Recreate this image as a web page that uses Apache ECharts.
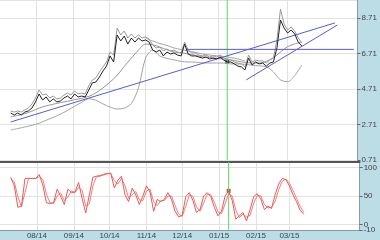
<!DOCTYPE html>
<html><head><meta charset="utf-8">
<script src="https://cdn.jsdelivr.net/npm/echarts@6/dist/echarts.min.js"></script>
<style>html,body{margin:0;padding:0;background:#bcdde6}#c{width:380px;height:240px}</style>
</head><body><div id="c"></div>
<script>
// ---- data ----
const startDate = '2014-07-10';
const stepDays = 3;        // sampling of price / stochastic arrays
const smoothStepDays = 6;  // sampling of averages / bands
const price = [3.36,3.24,3.36,3.24,3.41,3.47,3.64,3.98,4.43,4.09,4.26,3.98,4.15,3.98,4.03,4.20,4.31,4.15,4.43,4.26,
  4.31,4.26,4.65,5.05,5.10,5.38,5.72,6.00,6.57,6.23,7.75,7.41,7.69,7.24,7.58,7.35,7.58,7.41,7.47,7.35,
  6.90,6.79,6.90,6.57,6.79,6.68,6.74,6.62,6.57,7.24,6.68,6.57,6.57,6.51,6.45,6.51,6.40,6.45,6.40,6.51,
  6.34,6.23,6.23,6.12,6.00,5.95,5.78,6.45,6.06,6.23,6.12,6.17,6.00,6.17,6.23,7.02,8.59,8.14,7.86,8.03,
  7.81,7.35,7.13];
const priceHigh = [3.47,3.41,3.47,3.41,3.53,3.64,3.86,4.20,4.65,4.37,4.43,4.20,4.31,4.15,4.20,4.37,4.48,4.37,4.60,4.43,
  4.48,4.43,4.88,5.22,5.33,5.67,5.95,6.23,6.79,6.62,8.14,7.75,7.97,7.58,7.81,7.58,7.75,7.58,7.64,7.52,
  7.19,7.02,7.07,6.85,6.96,6.85,6.90,6.79,6.74,7.35,6.90,6.74,6.74,6.62,6.57,6.62,6.51,6.57,6.51,6.62,
  6.45,6.40,6.34,6.23,6.17,6.12,5.95,6.62,6.23,6.34,6.29,6.29,6.17,6.34,6.45,7.47,9.21,8.37,8.03,8.20,
  7.97,7.58,7.30];
const movingAvg = [3.13,3.22,3.32,3.46,3.63,3.76,3.85,3.94,4.02,4.11,4.18,4.29,4.49,4.77,5.10,5.48,5.98,6.45,6.90,7.24,
  7.20,7.07,6.92,6.79,6.75,6.68,6.61,6.52,6.48,6.43,6.39,6.35,6.27,6.21,6.17,6.17,6.26,6.47,6.79,7.09,
  7.25,7.35];
const lowerBand = [2.40,2.48,2.57,2.66,2.78,2.95,3.11,3.29,3.50,3.74,3.96,4.16,4.08,3.87,3.69,3.58,3.63,3.89,4.77,6.45,
  6.90,6.57,6.43,6.35,6.26,6.23,6.22,6.18,6.17,6.17,6.17,6.12,6.12,6.10,6.05,6.01,5.97,5.67,5.22,5.12,
  5.46,6.06];
const upperBand = [null,null,null,null,null,null,null,null,null,null,null,null,null,null,null,null,null,null,null,7.58,
  7.41,7.27,7.16,7.02,6.93,6.85,6.77,6.68,6.62,6.58,6.54,6.48,6.40,6.29];
const stochK = [83,68,30,32,81,81,81,81,88,69,38,37,38,62,49,35,62,56,57,74,
  45,20,52,83,85,86,88,90,90,64,78,85,52,40,64,52,35,50,68,57,
  23,44,40,44,56,44,23,13,16,49,56,42,21,26,50,56,49,30,15,23,
  50,59,42,9,15,21,6,26,49,54,45,26,32,28,52,71,81,79,68,52,
  40,25,18];
const stochD = [80,75,49,31,56,81,81,81,84,79,53,38,37,50,55,42,48,59,56,65,
  60,32,36,68,84,85,87,89,90,77,71,81,68,46,52,58,43,42,59,62,
  40,33,42,42,50,50,33,18,14,32,52,49,31,23,38,53,52,39,22,19,
  36,54,50,25,12,18,13,16,37,51,50,35,29,30,40,61,76,80,73,60,
  46,32,21];
const monthTicks = ['2014-08-01','2014-09-01','2014-10-01','2014-11-01','2014-12-01',
  '2015-01-01','2015-02-01','2015-03-01'];
const priceAxisMin = 0.71, priceAxisMax = 9.72, priceAxisStep = 2;
const stochMin = -10, stochMax = 110;
const stochTicks = [0, 50, 100];
const stochBottomTick = [-10];
const trendA = [['2014-07-10', 2.85], ['2015-04-10', 8.43]];
const trendB = [['2014-12-05', 6.94], ['2015-04-26', 6.94]];
const trendC = [['2015-01-25', 5.22], ['2015-04-12', 8.31]];
const cursorDate = '2015-01-09';
const xStart = '2014-07-01', xEnd = '2015-04-29';

// ---- build ----
const DAY = 86400000;
const ts = s => { const p = s.split('-').map(Number); return Date.UTC(p[0], p[1]-1, p[2]); };
const t0 = ts(startDate);
const seq = (arr, step) => arr.map((v, i) => [t0 + i*step*DAY, v]);
const pts = arr => arr.map(p => [ts(p[0]), p[1]]);
const cursorIdx = Math.round((ts(cursorDate) - t0) / DAY / stepDays);
const fmtMonth = v => { const d = new Date(v); return String(d.getUTCMonth()+1).padStart(2,'0') + '/' + String(d.getUTCFullYear()%100).padStart(2,'0'); };
const monthVals = monthTicks.map(ts);
const font = 'Liberation Sans';
const gridCol = '#e2e2e2';
const green = '#5fd85f';
const thin = (c) => ({type:'line', showSymbol:false, symbol:'none', color:c, lineStyle:{color:c, width:1}, animation:false, silent:true});
const cx = ts(cursorDate);
const labelStyle = {margin:4, fontSize:8, fontFamily:font, color:'#444', verticalAlign:'middle', hideOverlap:false};

const chart = echarts.init(document.getElementById('c'), null, {renderer:'canvas'});
chart.setOption({
  animation: false,
  backgroundColor: '#bcdde6',
  grid: [
    {left:-11, top:0, width:371, height:160, show:true, backgroundColor:'#fff', borderWidth:0},
    {left:-11, top:162, width:371, height:69, show:true, backgroundColor:'#fff', borderWidth:0}
  ],
  xAxis: [
    {type:'value', gridIndex:0, min:ts(xStart), max:ts(xEnd),
     axisLine:{show:false}, axisTick:{show:false, customValues:monthVals}, axisLabel:{show:false, customValues:monthVals},
     splitLine:{show:true, lineStyle:{color:gridCol, width:1}}},
    {type:'value', gridIndex:1, min:ts(xStart), max:ts(xEnd),
     axisLine:{show:true, onZero:false, lineStyle:{color:'#8a9aa0', width:1}},
     axisTick:{show:false, customValues:monthVals},
     axisLabel:{show:true, customValues:monthVals, formatter:fmtMonth, margin:2, fontSize:8, fontFamily:font, color:'#34465e', hideOverlap:false},
     splitLine:{show:true, lineStyle:{color:gridCol, width:1}}},
    {type:'value', gridIndex:1, position:'top', min:ts(xStart), max:ts(xEnd),
     axisLine:{show:true, onZero:false, lineStyle:{color:'#555', width:2}},
     axisTick:{show:false}, axisLabel:{show:false}, splitLine:{show:false}}
  ],
  yAxis: [
    {type:'value', gridIndex:0, position:'right', min:priceAxisMin, max:priceAxisMax, interval:priceAxisStep,
     axisLine:{show:true, onZero:false, lineStyle:{color:'#8a9aa0'}},
     axisTick:{show:true, length:3, lineStyle:{color:'#666'}},
     axisLabel:Object.assign({show:true, showMaxLabel:false, formatter:v=>v.toFixed(2), padding:[0,0,6,0]}, labelStyle),
     splitLine:{show:true, lineStyle:{color:gridCol}}},
    {type:'value', gridIndex:1, position:'right', min:stochMin, max:stochMax,
     axisLine:{show:true, onZero:false, lineStyle:{color:'#8a9aa0'}},
     axisTick:{show:true, length:3, customValues:stochTicks, lineStyle:{color:'#666'}},
     axisLabel:Object.assign({show:true, customValues:stochTicks, padding:[0,0,5,0]}, labelStyle),
     splitLine:{show:true, lineStyle:{color:gridCol}}},
    {type:'value', gridIndex:1, position:'right', min:stochMin, max:stochMax,
     axisLine:{show:false, onZero:false},
     axisTick:{show:true, length:3, customValues:stochBottomTick, lineStyle:{color:'#666'}},
     axisLabel:Object.assign({show:true, customValues:stochBottomTick, padding:[0,0,5,0]}, labelStyle),
     splitLine:{show:false}}
  ],
  series: [
    Object.assign(thin(green), {name:'cursorTop', xAxisIndex:0, yAxisIndex:0, data:[[cx, priceAxisMin], [cx, priceAxisMax]]}),
    Object.assign(thin(green), {name:'cursorBottom', xAxisIndex:1, yAxisIndex:1, data:[[cx, stochMin], [cx, stochMax]]}),
    Object.assign(thin('#a4a4a4'), {name:'lower', xAxisIndex:0, yAxisIndex:0, smooth:0.3, data:seq(lowerBand, smoothStepDays)}),
    Object.assign(thin('#a4a4a4'), {name:'upper', xAxisIndex:0, yAxisIndex:0, smooth:0.3, data:seq(upperBand, smoothStepDays)}),
    Object.assign(thin('#969696'), {name:'ma', xAxisIndex:0, yAxisIndex:0, smooth:0.3, data:seq(movingAvg, smoothStepDays)}),
    Object.assign(thin('#9a9a9a'), {name:'high', xAxisIndex:0, yAxisIndex:0, data:seq(priceHigh, stepDays)}),
    Object.assign(thin('#5a5ad8'), {name:'trendA', xAxisIndex:0, yAxisIndex:0, data:pts(trendA)}),
    Object.assign(thin('#5a5ad8'), {name:'trendB', xAxisIndex:0, yAxisIndex:0, data:pts(trendB)}),
    Object.assign(thin('#5a5ad8'), {name:'trendC', xAxisIndex:0, yAxisIndex:0, data:pts(trendC)}),
    Object.assign(thin('#222'), {name:'price', xAxisIndex:0, yAxisIndex:0, data:seq(price, stepDays)}),
    {type:'scatter', xAxisIndex:0, yAxisIndex:0, symbol:'rect', symbolSize:4, itemStyle:{color:'#222'}, silent:true,
     data:[[t0 + cursorIdx*stepDays*DAY, price[cursorIdx]]]},
    Object.assign(thin('#f28080'), {name:'pctD', xAxisIndex:1, yAxisIndex:1, data:seq(stochD, stepDays)}),
    Object.assign(thin('#e85a5a'), {name:'pctK', xAxisIndex:1, yAxisIndex:1, data:seq(stochK, stepDays)}),
    {type:'scatter', xAxisIndex:1, yAxisIndex:1, symbol:'rect', symbolSize:4, itemStyle:{color:'#8a3a20'}, silent:true,
     data:[[t0 + cursorIdx*stepDays*DAY, stochK[cursorIdx]]]}
  ]
});
</script></body></html>
